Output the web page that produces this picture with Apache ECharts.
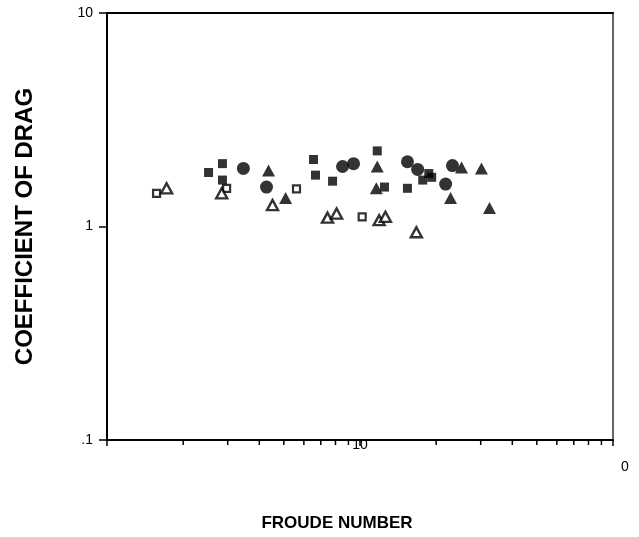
<!DOCTYPE html>
<html>
<head>
<meta charset="utf-8">
<script src="https://cdn.jsdelivr.net/npm/echarts@6/dist/echarts.min.js"></script>
<style>
html,body{margin:0;padding:0;background:#fff;}
#chart{width:639px;height:537px;}
</style>
</head>
<body>
<div id="chart"></div>
<script>
// Froude number (x) and coefficient of drag (y)
const filledSquares = [
  [2.52,1.79],[2.86,1.97],[2.86,1.65],[6.55,2.06],[6.67,1.74],[7.79,1.63],
  [11.7,2.26],[12.5,1.53],[15.4,1.51],[18.7,1.77],[17.7,1.65],[19.2,1.70]
];
const filledCircles = [
  [3.46,1.87],[4.27,1.53],[8.53,1.91],[9.43,1.97],[15.4,2.01],[16.9,1.85],[21.8,1.58],[23.2,1.93]
];
const filledTriangles = [
  [4.35,1.83],[5.08,1.36],[11.7,1.91],[11.6,1.51],[22.8,1.36],[25.2,1.89],[30.2,1.87],[32.5,1.22]
];
const openSquares = [
  [1.57,1.43],[2.97,1.51],[5.61,1.50],[10.2,1.11]
];
const openTriangles = [
  [1.72,1.51],[2.84,1.43],[4.51,1.26],[7.44,1.10],[8.08,1.15],[11.9,1.07],[12.6,1.11],[16.7,0.94]
];
const xMinorTicks = [2,3,4,5,6,7,8,9,20,30,40,50,60,70,80,90];
const xTickLabels = {10:'10'};
const yTickLabels = {'-1':'.1','0':'1','1':'10'};

const FONT = 'Liberation Sans, Arial, sans-serif';
const chart = echarts.init(document.getElementById('chart'), null, {renderer:'canvas'});

const option = {
  backgroundColor:'#fff',
  animation:false,
  grid:{left:107, right:26, top:13, bottom:90, containLabel:false},
  xAxis:[{
    type:'log', logBase:10, min:1, max:100,
    name:'FROUDE NUMBER', nameLocation:'middle', nameGap:75,
    nameTextStyle:{fontFamily:FONT, fontWeight:'bold', fontSize:17, color:'#000', padding:[0,46,0,0]},
    axisLine:{show:true, lineStyle:{color:'#000', width:2}},
    axisTick:{show:true, length:6, lineStyle:{color:'#000', width:1.5}},
    axisLabel:{margin:-2, fontFamily:FONT, fontSize:14, color:'#000',
      formatter:v => { const k = Math.round(v); return xTickLabels[k] || ''; }},
    splitLine:{show:false}, minorTick:{show:false}
  },{
    type:'log', logBase:10, min:1, max:100, position:'top',
    axisLine:{show:true, onZero:false, lineStyle:{color:'#000', width:2}},
    axisTick:{show:false}, axisLabel:{show:false}, splitLine:{show:false}
  }],
  yAxis:[{
    type:'log', logBase:10, min:0.1, max:10,
    name:'COEFFICIENT OF DRAG', nameLocation:'middle', nameGap:70, nameRotate:90,
    nameTextStyle:{fontFamily:FONT, fontWeight:'bold', fontSize:24, color:'#000'},
    axisLine:{show:true, lineStyle:{color:'#000', width:2}},
    axisTick:{show:true, length:8, lineStyle:{color:'#000', width:1.5}},
    axisLabel:{margin:14, fontFamily:FONT, fontSize:14, color:'#000',
      formatter:v => yTickLabels[String(Math.round(Math.log10(v)))] || ''},
    splitLine:{show:false}
  },{
    type:'log', logBase:10, min:0.1, max:10, position:'right',
    axisLine:{show:true, onZero:false, lineStyle:{color:'#666', width:2}},
    axisTick:{show:false}, axisLabel:{show:false}, splitLine:{show:false}
  }],
  graphic:[{
    type:'text', left:621, top:460,
    style:{text:'0', font:'14px ' + FONT, fill:'#000'}
  }],
  series:[
    {
      type:'custom', xAxisIndex:0, yAxisIndex:0, clip:false, silent:true,
      data: xMinorTicks.map(v => [v, 0.1]),
      renderItem:(params, api) => {
        const p = api.coord([api.value(0), api.value(1)]);
        return {type:'line', shape:{x1:p[0], y1:p[1], x2:p[0], y2:p[1]+5},
          style:{stroke:'#000', lineWidth:1.5}};
      }
    },
    {type:'scatter', data:filledSquares, symbol:'rect', symbolSize:9,
      itemStyle:{color:'#000'}},
    {type:'scatter', data:filledCircles, symbol:'circle', symbolSize:13,
      itemStyle:{color:'#000'}},
    {type:'scatter', data:filledTriangles, symbol:'triangle', symbolSize:[13,12],
      itemStyle:{color:'#000'}},
    {type:'scatter', data:openSquares, symbol:'rect', symbolSize:7,
      itemStyle:{color:'#fff', borderColor:'#000', borderWidth:2.2}},
    {type:'scatter', data:openTriangles, symbol:'triangle', symbolSize:[11,10],
      itemStyle:{color:'#fff', borderColor:'#000', borderWidth:2.4}}
  ]
};
chart.setOption(option);
</script>
</body>
</html>
